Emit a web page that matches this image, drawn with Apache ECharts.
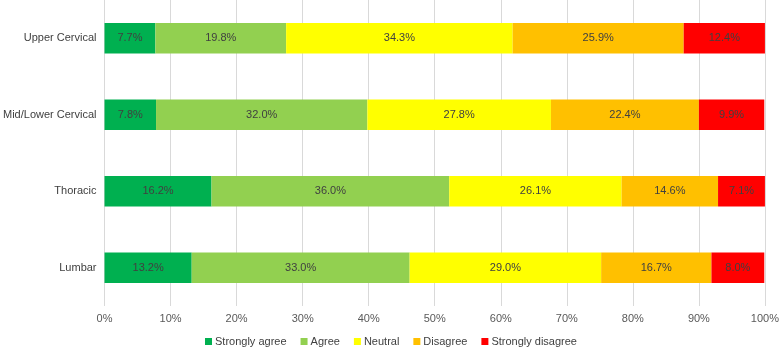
<!DOCTYPE html>
<html><head><meta charset="utf-8">
<script src="https://cdn.jsdelivr.net/npm/echarts@6/dist/echarts.min.js"></script>
<style>html,body{margin:0;padding:0;background:#fff}#c{width:782px;height:348px}</style>
</head><body><div id="c"></div>
<script>
var categories = ['Upper Cervical', 'Mid/Lower Cervical', 'Thoracic', 'Lumbar'];
var seriesNames = ['Strongly agree', 'Agree', 'Neutral', 'Disagree', 'Strongly disagree'];
var stronglyAgree = [7.7, 7.8, 16.2, 13.2];
var agree = [19.8, 32.0, 36.0, 33.0];
var neutral = [34.3, 27.8, 26.1, 29.0];
var disagree = [25.9, 22.4, 14.6, 16.7];
var stronglyDisagree = [12.4, 9.9, 7.1, 8.0];
var colors = ['#00b050', '#92d050', '#ffff00', '#ffc000', '#ff0000'];
var values = [stronglyAgree, agree, neutral, disagree, stronglyDisagree];

var chart = echarts.init(document.getElementById('c'));
chart.setOption({
  animation: false,
  textStyle: {fontFamily: 'Liberation Sans, Arial, sans-serif'},
  grid: {left: 102, right: 14, top: 0, bottom: 42, containLabel: false},
  legend: {
    top: 331, left: 'center', itemWidth: 7, itemHeight: 7, itemGap: 14,
    icon: 'rect',
    textStyle: {fontSize: 11, color: '#404040', padding: [0, 0, 0, -2]},
    data: seriesNames
  },
  xAxis: {
    type: 'value', min: 0, max: 100, interval: 10,
    axisLabel: {formatter: '{value}%', color: '#595959', fontSize: 11, margin: 7},
    splitLine: {lineStyle: {color: '#d9d9d9'}},
    axisLine: {show: false}, axisTick: {show: false}
  },
  yAxis: {
    type: 'category', data: categories, inverse: true,
    axisLine: {show: false}, axisTick: {show: false},
    axisLabel: {color: '#404040', fontSize: 11, margin: 8}
  },
  series: seriesNames.map(function (n, i) {
    return {
      name: n, type: 'bar', stack: 'total', data: values[i], barWidth: '40%',
      itemStyle: {color: colors[i]},
      label: {show: true, position: 'inside', color: '#404040', fontSize: 11,
        formatter: function (p) { return p.value.toFixed(1) + '%'; }}
    };
  })
});
</script></body></html>
